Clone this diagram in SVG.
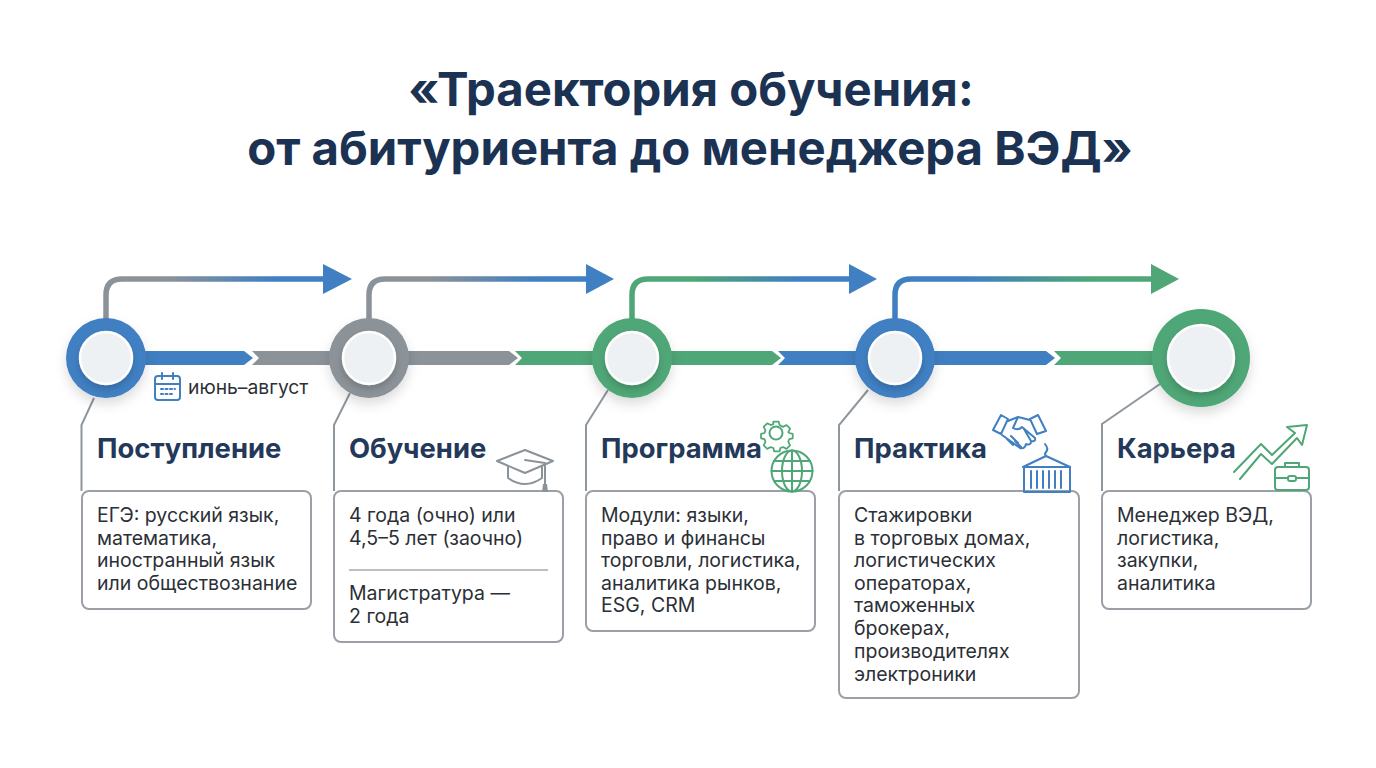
<svg xmlns="http://www.w3.org/2000/svg" width="1376" height="768" viewBox="0 0 1376 768">
<style>
text{font-family:"Inter","Liberation Sans",sans-serif}
.t{font-size:47.300px;font-weight:700;fill:#1b3253;text-anchor:middle}
.h{font-size:27.400px;font-weight:700;fill:#24395a}
.b{font-size:19.500px;fill:#2b2f36}
.card{fill:#fff;stroke:#9aa0a5;stroke-width:2}
.lead{fill:none;stroke:#8f969c;stroke-width:2}
.inner{fill:#eef1f3;stroke:#fff;stroke-width:2.500}
.ib{fill:none;stroke:#3f7fc2;stroke-width:2;stroke-linejoin:round;stroke-linecap:round}
.ig{fill:none;stroke:#4fa676;stroke-width:2;stroke-linejoin:round;stroke-linecap:round}
.ih{fill:none;stroke:#8b9298;stroke-width:2;stroke-linejoin:round;stroke-linecap:round}
.route{fill:none;stroke-width:5.500}
</style>
<defs>
<linearGradient id="g1" gradientUnits="userSpaceOnUse" x1="106" y1="0" x2="350" y2="0"><stop offset="0" stop-color="#8b9298"/><stop offset=".25" stop-color="#8b9298"/><stop offset=".7" stop-color="#3f7fc2"/></linearGradient>
<linearGradient id="g2" gradientUnits="userSpaceOnUse" x1="369" y1="0" x2="612" y2="0"><stop offset="0" stop-color="#8b9298"/><stop offset=".25" stop-color="#8b9298"/><stop offset=".7" stop-color="#3f7fc2"/></linearGradient>
<linearGradient id="g3" gradientUnits="userSpaceOnUse" x1="632" y1="0" x2="875" y2="0"><stop offset="0" stop-color="#4fa676"/><stop offset=".25" stop-color="#4fa676"/><stop offset=".7" stop-color="#3f7fc2"/></linearGradient>
<linearGradient id="g4" gradientUnits="userSpaceOnUse" x1="895" y1="0" x2="1178" y2="0"><stop offset="0" stop-color="#3f7fc2"/><stop offset=".25" stop-color="#3f7fc2"/><stop offset=".7" stop-color="#4fa676"/></linearGradient>
<filter id="sh" x="-30%" y="-30%" width="160%" height="170%"><feDropShadow dx="0" dy="6" stdDeviation="6" flood-color="#000" flood-opacity=".14"/></filter>
<filter id="si" x="-30%" y="-30%" width="160%" height="170%"><feDropShadow dx="0" dy="4" stdDeviation="3" flood-color="#000" flood-opacity=".16"/></filter>
</defs>
<rect width="1376" height="768" fill="#fff"/>
<text class="t" x="691" y="106">«Траектория обучения:</text>
<text class="t" x="690" y="165">от абитуриента до менеджера ВЭД»</text>

<g id="connectors">
<path class="route" stroke="url(#g1)" d="M106 320V295Q106 279 122 279H326"/><path fill="#3f7fc2" d="M323 264L352 279L323 294Z"/>
<path class="route" stroke="url(#g2)" d="M369 320V295Q369 279 385 279H588"/><path fill="#3f7fc2" d="M586 264L614 279L586 294Z"/>
<path class="route" stroke="url(#g3)" d="M632 320V295Q632 279 648 279H852"/><path fill="#3f7fc2" d="M849 264L877 279L849 294Z"/>
<path class="route" stroke="url(#g4)" d="M895 320V295Q895 279 911 279H1155"/><path fill="#4fa676" d="M1151 264L1179 279L1151 294Z"/>
<path fill="#3f7fc2" d="M140 351H244L253 358L244 365H140Z"/>
<path fill="#8b9298" d="M252 351H340V365H252L259 358Z"/>
<path fill="#8b9298" d="M400 351H509L518 358L509 365H400Z"/>
<path fill="#4fa676" d="M515 351H600V365H515L522 358Z"/>
<path fill="#4fa676" d="M660 351H772L781 358L772 365H660Z"/>
<path fill="#3f7fc2" d="M778 351H860V365H778L785 358Z"/>
<path fill="#3f7fc2" d="M930 351H1046L1055 358L1046 365H930Z"/>
<path fill="#4fa676" d="M1054 351H1160V365H1054L1061 358Z"/>
<path class="lead" d="M94 398L81.500 425V491"/>
<path class="lead" d="M350 393L334 425V491"/>
<path class="lead" d="M608 390L586 425V491"/>
<path class="lead" d="M868 390L839 425V491"/>
<path class="lead" d="M1160 384L1102 424V491"/>
</g>

<g id="node-1">
<circle cx="106" cy="358" r="40" fill="#3f7fc2" filter="url(#sh)"/><circle class="inner" cx="106" cy="358" r="26" filter="url(#si)"/>
<text class="h" x="97" y="458">Поступление</text>
<rect class="card" x="82" y="491" width="229" height="118" rx="7"/>
<text class="b"><tspan x="97" y="522">ЕГЭ: русский язык,</tspan><tspan x="97" y="545">математика,</tspan><tspan x="97" y="567">иностранный язык</tspan><tspan x="97" y="590">или обществознание</tspan></text>
<g class="ib"><rect x="155" y="376" width="25" height="24" rx="3"/><path d="M155 384H180M162 373V379M173 373V379"/><path stroke-dasharray="2 2.500" d="M161 389H175M161 394H172"/></g>
<text x="188" y="394" font-size="19.300" fill="#2b2f36">июнь–август</text>
</g>

<g id="node-2">
<circle cx="369" cy="358" r="40" fill="#8b9298" filter="url(#sh)"/><circle class="inner" cx="369" cy="358" r="26" filter="url(#si)"/>
<text class="h" x="349" y="458">Обучение</text>
<rect class="card" x="334" y="491" width="229" height="151" rx="7"/>
<text class="b"><tspan x="349" y="522">4 года (очно) или</tspan><tspan x="349" y="545">4,5–5 лет (заочно)</tspan><tspan x="349" y="600">Магистратура —</tspan><tspan x="349" y="623">2 года</tspan></text>
<path d="M349 570H548" stroke="#a4a9ae" stroke-width="1.500"/>
<g class="ih"><path d="M525 450L553 461L525 473L497 461Z"/><path d="M508 467V478Q525 490 542 478V467M525 460L545 463V484"/></g><path fill="#8b9298" d="M543 484h4l1 8h-6Z"/>
</g>

<g id="node-3">
<circle cx="632" cy="358" r="40" fill="#4fa676" filter="url(#sh)"/><circle class="inner" cx="632" cy="358" r="26" filter="url(#si)"/>
<text class="h" x="601" y="458">Программа</text>
<rect class="card" x="586" y="491" width="229" height="140" rx="7"/>
<text class="b"><tspan x="601" y="522">Модули: языки,</tspan><tspan x="601" y="545">право и финансы</tspan><tspan x="601" y="567">торговли, логистика,</tspan><tspan x="601" y="590">аналитика рынков,</tspan><tspan x="601" y="612">ESG, CRM</tspan></text>
<g class="ig"><circle cx="776" cy="433" r="6.500"/><path d="M773 420h6l1 4 4 2 4-2 4 4-2 4 1 1 4 1v5l-4 1-1 3 2 4-4 4-4-2-3 1-1 4h-6l-1-4-3-1-4 2-4-4 2-4-1-3-4-1v-5l4-1 1-3-2-4 4-4 4 2 3-1Z" transform="translate(776 433) scale(.88) translate(-776 -433)"/>
<circle cx="792" cy="471" r="20.500"/><ellipse cx="792" cy="471" rx="10" ry="20.500"/><path d="M792 450.500V491.500M771.500 471H812.500M774 461H810M774 481H810"/></g>
</g>

<g id="node-4">
<circle cx="895" cy="358" r="40" fill="#3f7fc2" filter="url(#sh)"/><circle class="inner" cx="895" cy="358" r="26" filter="url(#si)"/>
<text class="h" x="854" y="458">Практика</text>
<rect class="card" x="839" y="491" width="240" height="207" rx="7"/>
<text class="b"><tspan x="854" y="522">Стажировки</tspan><tspan x="854" y="545">в торговых домах,</tspan><tspan x="854" y="567">логистических</tspan><tspan x="854" y="590">операторах,</tspan><tspan x="854" y="612">таможенных</tspan><tspan x="854" y="635">брокерах,</tspan><tspan x="854" y="658">производителях</tspan><tspan x="854" y="681">электроники</tspan></text>
<g class="ib"><path d="M993 430L1001 415L1008 419L1001 434ZM1038 415L1046 431L1037 434L1030 419Z"/><path d="M1008 421L1018 417L1030 420M1018 417L1013 428Q1018 431 1022 427L1035 438Q1036 442 1031 441Q1031 446 1026 444Q1025 449 1020 448L1002 435M1007 439L1013 445M1011 436L1018 443M1015 441L1021 447M1024 429L1031 441"/>
<path d="M1045 444Q1049 449 1046 452Q1044 454 1046 456M1023 467L1046 456L1070 467" stroke-width="2"/><path d="M1024 467H1070"/><rect x="1024" y="467" width="46" height="25"/><path d="M1031 471V488M1037 471V488M1043 471V488M1049 471V488M1055 471V488M1061 471V488"/></g>
</g>

<g id="node-5">
<circle cx="1201" cy="358" r="49" fill="#4fa676" filter="url(#sh)"/><circle class="inner" cx="1201" cy="358" r="33" filter="url(#si)"/>
<text class="h" x="1117" y="458">Карьера</text>
<rect class="card" x="1102" y="491" width="209" height="118" rx="7"/>
<text class="b"><tspan x="1117" y="522">Менеджер ВЭД,</tspan><tspan x="1117" y="545">логистика,</tspan><tspan x="1117" y="567">закупки,</tspan><tspan x="1117" y="590">аналитика</tspan></text>
<g class="ig"><path d="M1234 472L1261 444L1272 455L1295 433L1287 427L1307 425L1302 445L1297 438L1272 464L1261 454L1240 479"/><rect x="1275" y="467" width="34" height="23" rx="3"/><path d="M1285 467V463H1299V467M1275 478H1288M1296 478H1309"/><rect x="1288" y="476" width="8" height="5" rx="2"/></g>
</g>
</svg>
